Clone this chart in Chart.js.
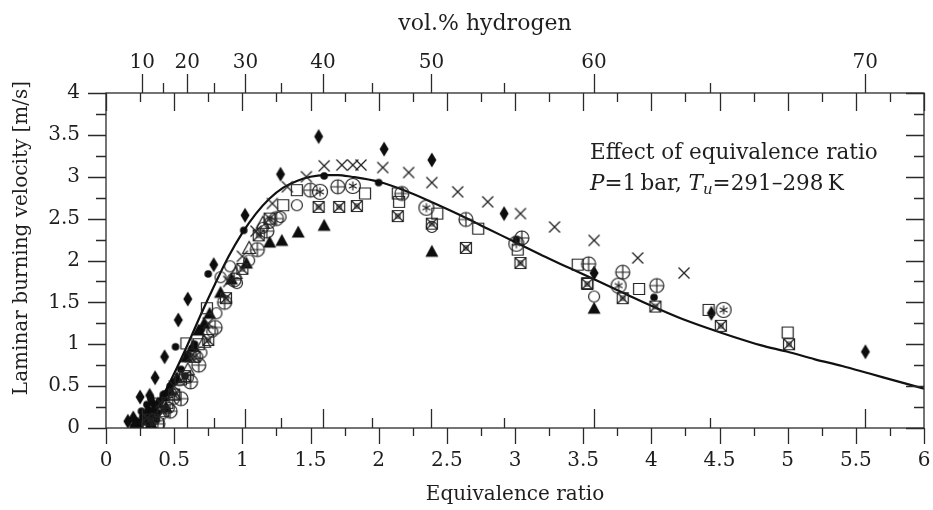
<!DOCTYPE html>
<html>
<head>
<meta charset="utf-8">
<script src="https://cdn.jsdelivr.net/npm/chart.js@4.4.1/dist/chart.umd.min.js"></script>
<style>
  html, body { margin: 0; padding: 0; background: #fff; }
</style>
</head>
<body>
<canvas id="burningChart" width="933" height="510"></canvas>
<script>
// fitted curve
const curvePhi = [0.25, 0.3, 0.35, 0.4, 0.5, 0.6, 0.7, 0.8, 0.9, 1.0, 1.1, 1.2, 1.3, 1.4, 1.5, 1.6, 1.7, 1.8, 2.0, 2.2, 2.4, 2.6, 2.8, 3.0, 3.2, 3.4, 3.6, 3.8, 4.0, 4.2, 4.4, 4.6, 4.8, 5.0, 5.2, 5.4, 5.6, 5.8, 6.0];
const curveS   = [0.03, 0.1, 0.2, 0.33, 0.65, 1.0, 1.37, 1.72, 2.05, 2.33, 2.56, 2.74, 2.87, 2.95, 3.0, 3.02, 3.02, 3.0, 2.94, 2.83, 2.69, 2.54, 2.38, 2.22, 2.06, 1.91, 1.76, 1.61, 1.46, 1.32, 1.2, 1.09, 0.99, 0.91, 0.82, 0.74, 0.65, 0.56, 0.47];

// measurements, one pair of arrays per symbol
const diamondPhi = [0.16, 0.2, 0.25, 0.32, 0.36, 0.43, 0.53, 0.60, 0.79, 1.02, 1.28, 1.56, 2.04, 2.39, 2.92, 3.58, 4.44, 5.57];
const diamondS   = [0.08, 0.12, 0.37, 0.39, 0.60, 0.85, 1.29, 1.54, 1.95, 2.54, 3.03, 3.48, 3.33, 3.20, 2.56, 1.85, 1.37, 0.91];

const dotPhi = [0.2, 0.23, 0.25, 0.27, 0.28, 0.3, 0.31, 0.33, 0.34, 0.36, 0.38, 0.4, 0.42, 0.45, 0.47, 0.5, 0.51, 0.55, 0.58, 0.6, 0.63, 0.65, 0.7, 0.75, 1.01, 1.6, 2.0, 3.01, 4.02, 0.26, 0.3, 0.33, 0.37];
const dotS   = [0.02, 0.08, 0.05, 0.14, 0.12, 0.08, 0.22, 0.15, 0.3, 0.25, 0.18, 0.32, 0.4, 0.42, 0.5, 0.55, 0.97, 0.7, 0.62, 0.88, 0.95, 1.0, 1.18, 1.84, 2.36, 3.01, 2.93, 2.25, 1.56, 0.2, 0.28, 0.35, 0.1];

const circlePhi = [0.3, 0.35, 0.4, 0.46, 0.5, 0.54, 0.6, 0.67, 0.7, 0.78, 0.81, 0.84, 0.91, 0.96, 1.05, 1.15, 1.2, 1.28, 1.4, 2.39, 3.58];
const circleS   = [0.05, 0.1, 0.15, 0.24, 0.35, 0.57, 0.6, 0.85, 0.9, 1.15, 1.37, 1.8, 1.93, 1.73, 2.0, 2.39, 2.45, 2.52, 2.66, 2.40, 1.57];

const squarePhi = [0.45, 0.55, 0.59, 0.68, 0.74, 1.30, 1.40, 1.90, 2.14, 2.15, 2.43, 2.73, 3.02, 3.46, 3.53, 3.91, 4.42, 5.0];
const squareS   = [0.3, 0.58, 1.01, 1.0, 1.43, 2.66, 2.84, 2.80, 2.80, 2.70, 2.56, 2.38, 2.13, 1.95, 1.73, 1.66, 1.41, 1.14];

const xsquarePhi = [0.32, 0.42, 0.5, 0.58, 0.65, 0.75, 0.88, 1.0, 1.12, 1.2, 1.56, 1.71, 1.84, 2.14, 2.39, 2.64, 3.04, 3.53, 3.79, 4.03, 4.51, 5.01];
const xsquareS   = [0.1, 0.2, 0.4, 0.62, 0.85, 1.05, 1.55, 1.9, 2.3, 2.5, 2.64, 2.64, 2.65, 2.53, 2.44, 2.15, 1.97, 1.72, 1.55, 1.45, 1.22, 1.0];

const oplusPhi = [0.38, 0.47, 0.55, 0.62, 0.68, 0.8, 0.87, 0.94, 1.11, 1.18, 1.25, 1.50, 1.70, 2.17, 2.64, 3.05, 3.54, 3.79, 4.04];
const oplusS   = [0.05, 0.2, 0.35, 0.55, 0.75, 1.2, 1.5, 1.77, 2.13, 2.35, 2.5, 2.84, 2.88, 2.80, 2.49, 2.27, 1.96, 1.86, 1.70];

const ostarPhi = [1.57, 1.81, 2.35, 3.01, 3.76, 4.53];
const ostarS   = [2.82, 2.89, 2.63, 2.20, 1.70, 1.41];

const crossPhi = [0.3, 0.4, 0.5, 0.62, 0.75, 0.9, 1.0, 1.1, 1.22, 1.33, 1.47, 1.60, 1.73, 1.81, 1.87, 2.03, 2.22, 2.39, 2.58, 2.80, 3.04, 3.29, 3.58, 3.90, 4.24];
const crossS   = [0.12, 0.3, 0.5, 0.85, 1.25, 1.75, 2.05, 2.35, 2.68, 2.88, 3.0, 3.13, 3.14, 3.14, 3.14, 3.11, 3.05, 2.93, 2.82, 2.70, 2.56, 2.40, 2.24, 2.03, 1.85];

const triPhi = [0.22, 0.25, 0.27, 0.3, 0.33, 0.35, 0.38, 0.42, 0.44, 0.47, 0.52, 0.59, 0.64, 0.68, 0.72, 0.76, 0.84, 0.92, 1.03, 1.20, 1.29, 1.41, 1.60, 2.39, 3.58];
const triS   = [0.05, 0.02, 0.1, 0.18, 0.06, 0.22, 0.3, 0.38, 0.25, 0.45, 0.6, 0.85, 0.98, 1.17, 1.25, 1.37, 1.62, 1.78, 1.97, 2.22, 2.24, 2.34, 2.42, 2.11, 1.43];

const otriPhi = [0.5, 0.6, 0.72, 0.95, 1.05, 1.15];
const otriS   = [0.4, 0.7, 1.03, 1.85, 2.15, 2.45];

// top axis
const volMajor = [10, 20, 30, 40, 50, 60, 70];
const volMinor = [15, 25, 35, 45, 55, 65];

const SERIF = '"DejaVu Serif", "Liberation Serif", serif';
const INK = '#1e1e1e';

function phiOfVol(v) {
    const x = v / 100;
    return x / (0.419 * (1 - x));
}

function pts(xs, ys) {
    return xs.map((x, i) => ({ x: x, y: ys[i] }));
}

function makeMarker(kind) {
    const c = document.createElement('canvas');
    c.width = 22; c.height = 22;
    const g = c.getContext('2d');
    g.translate(11, 11);
    g.strokeStyle = '#222';
    g.fillStyle = '#0d0d0d';
    g.lineWidth = 1.2;
    g.beginPath();
    switch (kind) {
        case 'diamond':
            g.moveTo(0, -7.5); g.lineTo(4.5, 0); g.lineTo(0, 7.5); g.lineTo(-4.5, 0); g.closePath(); g.fill();
            break;
        case 'dot':
            g.arc(0, 0, 3.8, 0, Math.PI * 2); g.fill();
            break;
        case 'circle':
            g.arc(0, 0, 5.5, 0, Math.PI * 2); g.stroke();
            break;
        case 'square':
            g.rect(-5.5, -5.5, 11, 11); g.stroke();
            break;
        case 'xsquare':
            g.rect(-5.5, -5.5, 11, 11);
            g.moveTo(-5.5, -5.5); g.lineTo(5.5, 5.5); g.moveTo(5.5, -5.5); g.lineTo(-5.5, 5.5);
            g.stroke();
            g.beginPath(); g.rect(-2, -2, 4, 4); g.stroke();
            break;
        case 'oplus':
            g.arc(0, 0, 7, 0, Math.PI * 2);
            g.moveTo(-7, 0); g.lineTo(7, 0); g.moveTo(0, -7); g.lineTo(0, 7);
            g.stroke();
            break;
        case 'ostar':
            g.arc(0, 0, 7.5, 0, Math.PI * 2); g.stroke();
            g.beginPath();
            for (let k = 0; k < 3; k++) {
                const a = Math.PI / 2 + k * Math.PI / 3;
                g.moveTo(-4.5 * Math.cos(a), -4.5 * Math.sin(a));
                g.lineTo(4.5 * Math.cos(a), 4.5 * Math.sin(a));
            }
            g.stroke();
            break;
        case 'cross':
            g.lineWidth = 1.3;
            g.moveTo(-5.5, -5.5); g.lineTo(5.5, 5.5); g.moveTo(5.5, -5.5); g.lineTo(-5.5, 5.5); g.stroke();
            break;
        case 'tri':
            g.moveTo(0, -6.5); g.lineTo(6.5, 5.5); g.lineTo(-6.5, 5.5); g.closePath(); g.fill();
            break;
        case 'otri':
            g.moveTo(0, -6.5); g.lineTo(6.5, 5.5); g.lineTo(-6.5, 5.5); g.closePath(); g.stroke();
            break;
    }
    return c;
}

function markerSet(label, xs, ys, kind) {
    return {
        label: label,
        data: pts(xs, ys),
        pointStyle: makeMarker(kind),
        pointRadius: 6,
        pointHoverRadius: 6,
        showLine: false
    };
}

function noPad(scale) {
    scale.paddingLeft = 0; scale.paddingRight = 0;
    scale.paddingTop = 0; scale.paddingBottom = 0;
}

// frame, ticks on all four sides, free titles and the annotation
const framePlugin = {
    id: 'frameTicks',
    afterDraw(chart) {
        const { ctx, chartArea: a, scales } = chart;
        const xs = scales.x, ys = scales.y;
        ctx.save();
        ctx.strokeStyle = '#2a2a2a';
        ctx.lineWidth = 1.3;
        ctx.strokeRect(a.left, a.top, a.right - a.left, a.bottom - a.top);

        ctx.beginPath();
        for (let v = 0; v <= 6.001; v += 0.25) {
            const px = Math.round(xs.getPixelForValue(v)) + 0.5;
            const major = Math.abs(v * 2 - Math.round(v * 2)) < 1e-6;
            ctx.moveTo(px, a.bottom); ctx.lineTo(px, a.bottom + (major ? 16 : 8));
            ctx.moveTo(px, a.top); ctx.lineTo(px, a.top + (major ? 18 : 9));
        }
        for (let v = 0; v <= 4.001; v += 0.25) {
            const py = Math.round(ys.getPixelForValue(v)) + 0.5;
            const major = Math.abs(v * 2 - Math.round(v * 2)) < 1e-6;
            const len = major ? 18 : 10;
            ctx.moveTo(a.left - len, py); ctx.lineTo(a.left, py);
            ctx.moveTo(a.right - len, py); ctx.lineTo(a.right, py);
        }
        volMajor.concat(volMinor).forEach(v => {
            const px = Math.round(xs.getPixelForValue(phiOfVol(v))) + 0.5;
            const len = volMajor.includes(v) ? 19 : 10;
            ctx.moveTo(px, a.top - len); ctx.lineTo(px, a.top);
            ctx.moveTo(px, a.bottom - len); ctx.lineTo(px, a.bottom);
        });
        ctx.stroke();

        ctx.fillStyle = INK;
        ctx.textAlign = 'center';
        ctx.textBaseline = 'middle';
        ctx.font = '22px ' + SERIF;
        ctx.fillText('vol.% hydrogen', 485, 24);

        ctx.save();
        ctx.translate(22, 238);
        ctx.rotate(-Math.PI / 2);
        ctx.font = '20px ' + SERIF;
        ctx.fillText('Laminar burning velocity [m/s]', 0, 0);
        ctx.restore();

        // annotation
        ctx.textAlign = 'left';
        ctx.textBaseline = 'alphabetic';
        const up = '21.5px ' + SERIF, it = 'italic 21.5px ' + SERIF, sub = 'italic 15px ' + SERIF;
        ctx.font = up;
        ctx.fillText('Effect of equivalence ratio', 590, 159);
        let x = 590;
        const parts = [[it, 'P', 0], [up, '=1\u2009bar, ', 0], [it, 'T', 0], [sub, 'u', 4], [up, '=291\u2013298\u2009K', 0]];
        parts.forEach(([f, t, dy]) => {
            ctx.font = f;
            ctx.fillText(t, x, 190 + dy);
            x += ctx.measureText(t).width;
        });
        ctx.restore();
    }
};

const tickFont = { family: SERIF, size: 20 };

new Chart(document.getElementById('burningChart'), {
    type: 'scatter',
    data: {
        datasets: [
            markerSet('open circles', circlePhi, circleS, 'circle'),
            markerSet('squares', squarePhi, squareS, 'square'),
            markerSet('crossed squares', xsquarePhi, xsquareS, 'xsquare'),
            markerSet('circle plus', oplusPhi, oplusS, 'oplus'),
            markerSet('circle star', ostarPhi, ostarS, 'ostar'),
            markerSet('open triangles', otriPhi, otriS, 'otri'),
            markerSet('crosses', crossPhi, crossS, 'cross'),
            markerSet('triangles', triPhi, triS, 'tri'),
            markerSet('dots', dotPhi, dotS, 'dot'),
            markerSet('diamonds', diamondPhi, diamondS, 'diamond'),
            {
                type: 'line',
                label: 'correlation',
                data: pts(curvePhi, curveS),
                borderColor: '#111',
                borderWidth: 2.2,
                pointRadius: 0,
                fill: false,
                cubicInterpolationMode: 'monotone'
            }
        ]
    },
    options: {
        responsive: false,
        animation: false,
        events: [],
        layout: { padding: { left: 0, right: 9, top: 0, bottom: 0 } },
        plugins: {
            legend: { display: false },
            tooltip: { enabled: false }
        },
        scales: {
            x: {
                type: 'linear',
                position: 'bottom',
                min: 0, max: 6,
                grid: { display: false, drawTicks: false },
                border: { display: false },
                ticks: { stepSize: 0.5, padding: 21, color: INK, font: tickFont, autoSkip: false, maxRotation: 0, callback: v => String(v) },
                title: { display: true, text: 'Equivalence ratio', color: INK, font: { family: SERIF, size: 20 }, padding: { top: 0, bottom: 3 } },
                afterFit(scale) { scale.height = 82; noPad(scale); }
            },
            xTop: {
                type: 'linear',
                position: 'top',
                min: 0, max: 6,
                grid: { display: false, drawTicks: false },
                border: { display: false },
                ticks: {
                    padding: 18, color: INK, font: tickFont, autoSkip: false, maxRotation: 0,
                    callback: (value, index) => String(volMajor[index])
                },
                afterBuildTicks(scale) {
                    scale.ticks = volMajor.map(v => ({ value: phiOfVol(v) }));
                },
                afterFit(scale) { scale.height = 93; noPad(scale); }
            },
            y: {
                type: 'linear',
                position: 'left',
                min: 0, max: 4,
                grid: { display: false, drawTicks: false },
                border: { display: false },
                ticks: { stepSize: 0.5, padding: 26, color: INK, font: tickFont, callback: v => String(v) },
                afterFit(scale) { scale.width = 106; noPad(scale); }
            }
        }
    },
    plugins: [framePlugin]
});
</script>
</body>
</html>
